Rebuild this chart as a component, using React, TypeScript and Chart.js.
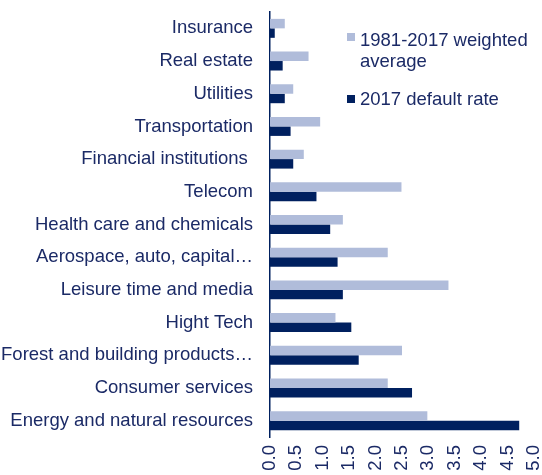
import React, { useEffect, useRef } from "react";
import { Chart, registerables } from "chart.js";

Chart.register(...registerables);

const categories = [
  "Insurance",
  "Real estate",
  "Utilities",
  "Transportation",
  "Financial institutions ",
  "Telecom",
  "Health care and chemicals",
  "Aerospace, auto, capital…",
  "Leisure time and media",
  "Hight Tech",
  "Forest and building products…",
  "Consumer services",
  "Energy and natural resources",
];

const weightedAverage = [0.28, 0.73, 0.44, 0.95, 0.64, 2.49, 1.38, 2.23, 3.38, 1.24, 2.5, 2.23, 2.98];
const defaultRate2017 = [0.09, 0.24, 0.28, 0.39, 0.44, 0.88, 1.14, 1.28, 1.38, 1.54, 1.68, 2.69, 4.72];

const seriesNames = ["1981-2017 weighted average", "2017 default rate"];
const xMin = 0;
const xMax = 5;
const xStep = 0.5;

const LIGHT = "#b0bcda";
const DARK = "#00205f";
const TEXT = "#1b2a66";
const FONT = "Arial, 'Liberation Sans', sans-serif";
const FS = 18.5;

export default function App() {
  const ref = useRef<HTMLCanvasElement | null>(null);

  useEffect(() => {
    if (!ref.current) return;
    const chart = new Chart(ref.current, {
      type: "bar",
      data: {
        labels: categories,
        datasets: [
          {
            label: seriesNames[0],
            data: weightedAverage,
            backgroundColor: LIGHT,
            barPercentage: 1,
            categoryPercentage: 0.58,
          },
          {
            label: seriesNames[1],
            data: defaultRate2017,
            backgroundColor: DARK,
            barPercentage: 1,
            categoryPercentage: 0.58,
          },
        ],
      },
      options: {
        indexAxis: "y",
        animation: false,
        responsive: false,
        maintainAspectRatio: false,
        layout: { padding: { top: 12, right: 8, left: 0, bottom: 0 } },
        plugins: {
          legend: { display: false },
          tooltip: { enabled: false },
        },
        scales: {
          x: {
            min: xMin,
            max: xMax,
            grid: { display: false, drawTicks: false },
            border: { display: false },
            ticks: {
              stepSize: xStep,
              minRotation: 90,
              maxRotation: 90,
              padding: 8,
              color: TEXT,
              font: { family: FONT, size: FS },
              callback: (v: any) => Number(v).toFixed(1),
            },
            afterFit: (s: any) => {
              s.height = 38;
              s.paddingLeft = 0;
              s.paddingRight = 0;
            },
          },
          y: {
            grid: { display: false, drawTicks: false },
            border: { display: true, color: DARK, width: 1.5 },
            ticks: {
              padding: 17,
              color: TEXT,
              font: { family: FONT, size: FS },
              autoSkip: false,
            },
            afterFit: (s: any) => {
              s.width = 270;
              s.paddingTop = 0;
              s.paddingBottom = 0;
            },
          },
        },
      },
    });
    return () => chart.destroy();
  }, []);

  const legendText: React.CSSProperties = {
    position: "absolute",
    fontFamily: FONT,
    fontSize: FS,
    lineHeight: "21px",
    color: TEXT,
    whiteSpace: "nowrap",
  };
  const sq = (c: string, top: number): React.CSSProperties => ({
    position: "absolute",
    left: 347,
    top,
    width: 8,
    height: 8,
    background: c,
  });

  return (
    <div style={{ position: "absolute", left: 0, top: 0, width: 542, height: 475, background: "#fff" }}>
      <canvas ref={ref} width={542} height={475} style={{ display: "block" }} />
      <div style={sq(LIGHT, 33)} />
      <div style={{ ...legendText, left: 360, top: 29 }}>
        1981-2017 weighted
        <br />
        average
      </div>
      <div style={sq(DARK, 95)} />
      <div style={{ ...legendText, left: 360, top: 88 }}>2017 default rate</div>
    </div>
  );
}
